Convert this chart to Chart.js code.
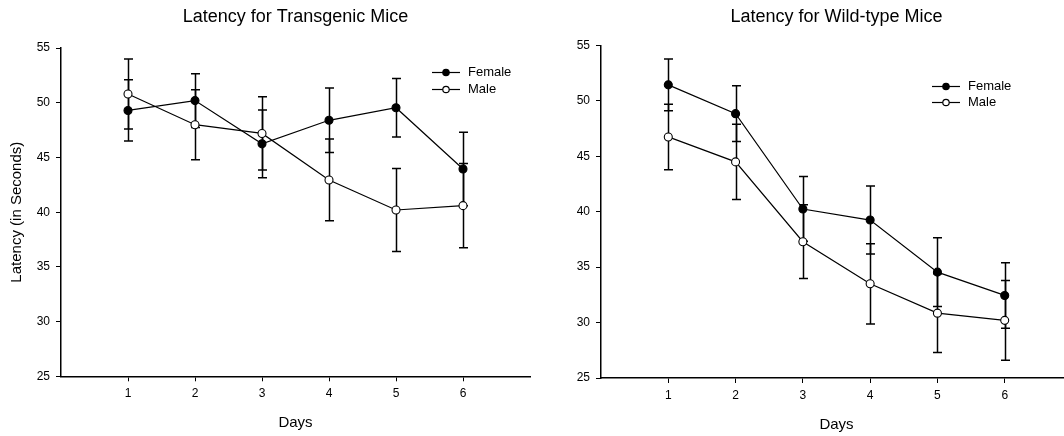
<!DOCTYPE html>
<html>
<head>
<meta charset="utf-8">
<title>Latency</title>
<script src="https://cdn.jsdelivr.net/npm/chart.js@4.4.1/dist/chart.umd.min.js"></script>
<style>
  html, body { margin: 0; padding: 0; background: #fff; overflow: hidden; }
  #wrap { position: relative; width: 1064px; height: 436px; overflow: hidden; }
  #wrap canvas { position: absolute; top: 0; }
  #tg { left: 0; }
  #wt { left: 540px; }
</style>
</head>
<body>
<div id="wrap">
  <canvas id="tg" width="540" height="436"></canvas>
  <canvas id="wt" width="542" height="436"></canvas>
</div>
<script>
// days on the x axis
var days = [1, 2, 3, 4, 5, 6];
var yTicks = [25, 30, 35, 40, 45, 50, 55];

// transgenic mice, mean latency and error
var tgFemale = [49.3, 50.2, 46.25, 48.4, 49.55, 43.95];
var tgFemaleErr = [2.8, 2.45, 3.1, 2.95, 2.67, 3.35];
var tgMale = [50.8, 48.0, 47.2, 42.95, 40.2, 40.6];
var tgMaleErr = [3.2, 3.2, 3.35, 3.73, 3.8, 3.85];

// wild-type mice
var wtFemale = [51.45, 48.85, 40.25, 39.25, 34.55, 32.45];
var wtFemaleErr = [2.33, 2.52, 2.92, 3.07, 3.1, 2.95];
var wtMale = [46.75, 44.5, 37.3, 33.5, 30.85, 30.2];
var wtMaleErr = [2.95, 3.4, 3.33, 3.62, 3.55, 3.6];

var FONT = '"Liberation Sans", Arial, sans-serif';

// vertical error bars with caps, under the markers
var errorBars = {
    id: 'errorBars',
    beforeDatasetsDraw: function (chart) {
        var ctx = chart.ctx, xs = chart.scales.x, ys = chart.scales.y;
        ctx.save();
        ctx.strokeStyle = '#000';
        ctx.lineWidth = 1.5;
        chart.data.datasets.forEach(function (ds) {
            ds.data.forEach(function (p, i) {
                var e = ds.errors[i];
                var px = Math.round(xs.getPixelForValue(p.x)) + 0.5;
                var top = ys.getPixelForValue(p.y + e);
                var bot = ys.getPixelForValue(p.y - e);
                ctx.beginPath();
                ctx.moveTo(px, top); ctx.lineTo(px, bot);
                ctx.moveTo(px - 4.5, top); ctx.lineTo(px + 4.5, top);
                ctx.moveTo(px - 4.5, bot); ctx.lineTo(px + 4.5, bot);
                ctx.stroke();
            });
        });
        ctx.restore();
    }
};

// small legend inside the plot area
var insetLegend = {
    id: 'insetLegend',
    afterDraw: function (chart, args, opts) {
        var ctx = chart.ctx, a = chart.chartArea;
        var x0 = a.left + opts.dx, y0 = a.top + opts.dy;
        ctx.save();
        ctx.font = '13px ' + FONT;
        ctx.textBaseline = 'middle';
        ctx.lineWidth = 1.2;
        ctx.strokeStyle = '#000';
        chart.data.datasets.forEach(function (ds, i) {
            var yy = Math.round(y0 + i * opts.gap) + 0.5;
            ctx.beginPath();
            ctx.moveTo(x0, yy); ctx.lineTo(x0 + 28, yy);
            ctx.stroke();
            ctx.beginPath();
            ctx.arc(x0 + 14, yy, 3.2, 0, Math.PI * 2);
            ctx.fillStyle = ds.pointBackgroundColor;
            ctx.fill();
            ctx.stroke();
            ctx.fillStyle = '#000';
            ctx.fillText(ds.label, x0 + 36, yy);
        });
        ctx.restore();
    }
};

function points(vals) {
    return days.map(function (d, i) { return { x: d, y: vals[i] }; });
}

function series(label, vals, errs, fill) {
    return {
        label: label,
        data: points(vals),
        errors: errs,
        borderColor: '#000',
        borderWidth: 1.2,
        pointRadius: 4,
        pointHoverRadius: 4,
        pointBorderWidth: 1.1,
        pointBorderColor: '#000',
        pointBackgroundColor: fill,
        tension: 0
    };
}

function makeChart(id, title, f, fe, m, me, g) {
    return new Chart(document.getElementById(id), {
        type: 'line',
        data: {
            datasets: [
                series('Female', f, fe, '#000'),
                series('Male', m, me, '#fff')
            ]
        },
        options: {
            responsive: false,
            animation: false,
            layout: { padding: { left: 0, right: 10, top: 0, bottom: 0 } },
            plugins: {
                legend: { display: false },
                tooltip: { enabled: false },
                title: {
                    display: true,
                    text: title,
                    fullSize: false,
                    color: '#000',
                    font: { family: FONT, size: 18, weight: 'normal' },
                    padding: { top: 6, bottom: g.titleGap }
                },
                insetLegend: { dx: g.legX, dy: g.legY, gap: g.legGap }
            },
            scales: {
                x: {
                    type: 'linear',
                    min: 0,
                    max: 7,
                    afterBuildTicks: function (s) {
                        s.ticks = days.map(function (d) { return { value: d }; });
                    },
                    afterFit: function (s) { s.height = g.xHeight; },
                    ticks: { color: '#000', padding: 5, font: { family: FONT, size: 12 } },
                    grid: { drawOnChartArea: false, drawTicks: true, tickLength: 5, color: '#000' },
                    border: { display: true, color: '#000', width: 1.5 },
                    title: {
                        display: true,
                        text: 'Days',
                        color: '#000',
                        font: { family: FONT, size: 15 },
                        padding: { top: 0, bottom: g.daysPad }
                    }
                },
                y: {
                    min: 25,
                    max: 55,
                    afterBuildTicks: function (s) {
                        s.ticks = yTicks.map(function (v) { return { value: v }; });
                    },
                    afterFit: function (s) { s.width = 61; },
                    ticks: { color: '#000', padding: 6, font: { family: FONT, size: 12 } },
                    grid: { drawOnChartArea: false, drawTicks: true, tickLength: 5, color: '#000' },
                    border: { display: true, color: '#000', width: 1.5 },
                    title: {
                        display: !!g.yTitle,
                        text: g.yTitle || '',
                        color: '#000',
                        font: { family: FONT, size: 15 },
                        padding: { top: 7.5, bottom: 0 }
                    }
                }
            }
        },
        plugins: [errorBars, insetLegend]
    });
}

makeChart('tg', 'Latency for Transgenic Mice', tgFemale, tgFemaleErr, tgMale, tgMaleErr, {
    titleGap: 20.5, xHeight: 59.7, daysPad: 4.3,
    legX: 371, legY: 24, legGap: 17,
    yTitle: 'Latency (in Seconds)'
});

makeChart('wt', 'Latency for Wild-type Mice', wtFemale, wtFemaleErr, wtMale, wtMaleErr, {
    titleGap: 17.9, xHeight: 58, daysPad: 2,
    legX: 331, legY: 40.3, legGap: 16.3,
    yTitle: ''
});
</script>
</body>
</html>
